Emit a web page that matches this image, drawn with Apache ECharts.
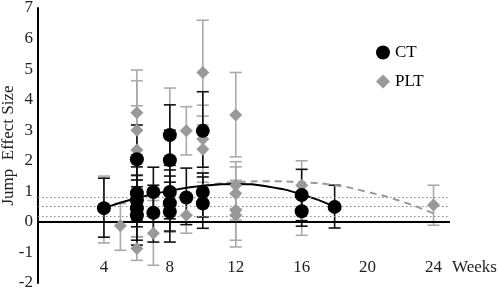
<!DOCTYPE html>
<html>
<head>
<meta charset="utf-8">
<script src="https://cdn.jsdelivr.net/npm/echarts@6/dist/echarts.min.js"></script>
<style>
  html, body { margin: 0; padding: 0; background: #fff; }
  #main { width: 498px; height: 292px; }
</style>
</head>
<body>
<div id="main"></div>
<script>
// [week, mean, lower, upper]
const ctPoints = [
  [4, 0.45, -0.5, 1.43],
  [6, 2.05, 0.93, 3.17],
  [6, 0.94, 0.06, 1.8],
  [6, 0.71, -0.16, 1.53],
  [6, 0.45, -0.6, 1.37],
  [6, 0.22, -0.76, 1.15],
  [7, 0.98, 0.18, 1.79],
  [7, 0.3, -0.66, 1.2],
  [8, 2.84, 1.85, 3.83],
  [8, 2.02, 1.0, 3.0],
  [8, 0.98, 0.1, 1.7],
  [8, 0.61, -0.3, 1.5],
  [8, 0.33, -0.66, 1.3],
  [9, 0.8, -0.09, 1.76],
  [10, 2.98, 1.79, 4.26],
  [10, 0.98, 0.16, 1.6],
  [10, 0.6, -0.21, 1.47],
  [16, 0.88, 0.04, 1.72],
  [16, 0.35, -0.14, 0.84],
  [18, 0.49, -0.2, 1.2]
];
const pltPoints = [
  [4, 0.42, -0.69, 1.5],
  [5, -0.13, -0.93, 0.6],
  [6, 3.57, 2.2, 4.97],
  [6, 3.0, 1.38, 4.62],
  [6, 2.35, 0.9, 3.8],
  [6, 0.5, -0.5, 1.5],
  [6, -0.87, -1.26, -0.48],
  [7, -0.37, -1.42, 0.7],
  [8, 2.02, -0.34, 4.38],
  [9, 2.98, 2.19, 3.77],
  [9, 0.22, -0.37, 0.8],
  [10, 4.89, 3.18, 6.6],
  [10, 2.71, 1.6, 3.82],
  [10, 2.38, 1.3, 3.46],
  [12, 3.5, 2.13, 4.89],
  [12, 1.2, 0.43, 1.97],
  [12, 0.93, 0.06, 1.8],
  [12, 0.38, -0.6, 1.36],
  [12, 0.22, -0.82, 1.26],
  [16, 1.2, 0.4, 2.0],
  [16, 0.27, -0.44, 0.98],
  [24, 0.55, -0.11, 1.2]
];
// fitted curves
const ctCurve = [[4, 0.45], [6, 0.78], [8, 1.02], [10, 1.18], [12, 1.24], [14, 1.15], [16, 0.9], [18, 0.5]];
const pltCurve = [[10, 1.2], [12, 1.3], [14, 1.33], [16, 1.3], [18, 1.2], [20, 0.98], [22, 0.68], [24, 0.28]];
const refLevels = [0.2, 0.5, 0.8];
const xTicks = [4, 8, 12, 16, 20, 24];

const font = '"Liberation Serif", "Times New Roman", serif';
const chart = echarts.init(document.getElementById('main'));

function errorBar(color) {
  return function (params, api) {
    const x = api.value(0);
    const top = api.coord([x, api.value(3)]);
    const bot = api.coord([x, api.value(2)]);
    const hw = 6;
    const st = { stroke: color, lineWidth: 1.6 };
    return {
      type: 'group',
      children: [
        { type: 'line', shape: { x1: top[0], y1: top[1], x2: bot[0], y2: bot[1] }, style: st },
        { type: 'line', shape: { x1: top[0] - hw, y1: top[1], x2: top[0] + hw, y2: top[1] }, style: st },
        { type: 'line', shape: { x1: bot[0] - hw, y1: bot[1], x2: bot[0] + hw, y2: bot[1] }, style: st }
      ]
    };
  };
}

chart.setOption({
  animation: false,
  textStyle: { fontFamily: font },
  grid: { left: 38, right: 48, top: 8, bottom: 9, outerBoundsMode: 'none', containLabel: false },
  legend: {
    orient: 'vertical',
    left: 371,
    top: 39,
    itemWidth: 14,
    itemHeight: 14,
    itemGap: 12,
    textStyle: { fontFamily: font, fontSize: 17, color: '#000' },
    data: [
      { name: 'CT', icon: 'circle' },
      { name: 'PLT', icon: 'diamond' }
    ]
  },
  xAxis: {
    type: 'value',
    min: 0,
    max: 25,
    interval: 4,
    name: 'Weeks',
    nameLocation: 'end',
    nameGap: 2,
    nameTextStyle: { fontFamily: font, fontSize: 17, color: '#222', verticalAlign: 'bottom', padding: [0, 0, 7, 0] },
    axisLine: { show: false, onZero: false },
    axisTick: { show: false },
    splitLine: { show: false },
    axisLabel: {
      inside: true,
      margin: 7,
      showMaxLabel: false,
      fontFamily: font,
      fontSize: 17,
      color: '#222',
      formatter: v => (xTicks.indexOf(v) >= 0 ? String(v) : '')
    }
  },
  yAxis: {
    type: 'value',
    min: -2,
    max: 7,
    interval: 1,
    name: 'Jump  Effect Size',
    nameLocation: 'middle',
    nameGap: 21,
    nameMoveOverlap: false,
    nameTextStyle: { fontFamily: font, fontSize: 17, color: '#222' },
    axisLine: { show: true, onZero: false, lineStyle: { color: '#000', width: 2 } },
    axisTick: { show: false },
    splitLine: { show: false },
    axisLabel: { fontFamily: font, fontSize: 17, color: '#222', margin: 5 }
  },
  series: [
    {
      name: 'PLT bars',
      type: 'custom',
      renderItem: errorBar('#aaaaaa'),
      encode: { x: 0, y: [2, 3] },
      data: pltPoints,
      z: 2,
      markLine: {
        silent: true,
        symbol: 'none',
        label: { show: false },
        data: [
          ...refLevels.map(v => ({ yAxis: v, lineStyle: { type: [1.5, 2.5], color: '#888', width: 1.2 } })),
          { yAxis: 0, lineStyle: { type: 'solid', color: '#000', width: 2 } }
        ]
      }
    },
    {
      name: 'CT bars',
      type: 'custom',
      renderItem: errorBar('#111111'),
      encode: { x: 0, y: [2, 3] },
      data: ctPoints,
      z: 3
    },
    {
      name: 'PLT fit',
      type: 'line',
      data: pltCurve,
      smooth: true,
      symbol: 'none',
      lineStyle: { color: '#999', width: 2, type: [7, 5] },
      z: 4
    },
    {
      name: 'CT fit',
      type: 'line',
      data: ctCurve,
      smooth: true,
      symbol: 'none',
      lineStyle: { color: '#000', width: 2 },
      z: 4
    },
    {
      name: 'PLT',
      type: 'scatter',
      symbol: 'diamond',
      symbolSize: 13,
      itemStyle: { color: '#999999', opacity: 1 },
      data: pltPoints.map(p => [p[0], p[1]]),
      z: 5
    },
    {
      name: 'CT',
      type: 'scatter',
      symbol: 'circle',
      symbolSize: 14,
      itemStyle: { color: '#000', opacity: 1 },
      data: ctPoints.map(p => [p[0], p[1]]),
      z: 6
    }
  ]
});

window.addEventListener('resize', () => {
  chart.resize();
});
</script>
</body>
</html>
